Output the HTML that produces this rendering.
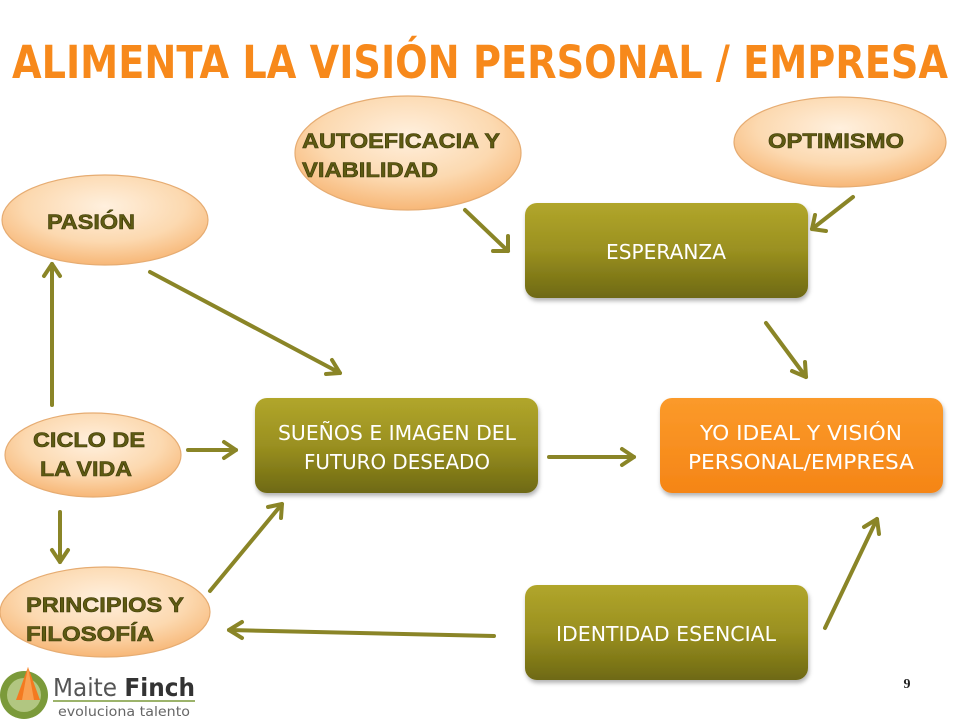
<!DOCTYPE html>
<html><head><meta charset="utf-8"><style>
html,body{margin:0;padding:0;background:#fff;}
svg{display:block;}
.el{font-family:"Liberation Sans",sans-serif;font-weight:bold;font-size:21px;fill:#5e5a12;stroke:#3c3a08;stroke-width:0.6;}
.bx{font-family:"DejaVu Sans","Liberation Sans",sans-serif;font-size:20px;fill:#fff;}
</style></head><body>
<svg width="960" height="720" viewBox="0 0 960 720" xmlns="http://www.w3.org/2000/svg">
<defs>
<radialGradient id="pe" cx="50%" cy="35%" r="65%">
<stop offset="0" stop-color="#fff0de"/><stop offset="0.6" stop-color="#fcd9b0"/><stop offset="1" stop-color="#f7b777"/>
</radialGradient>
<linearGradient id="ol" x1="0" y1="0" x2="0" y2="1">
<stop offset="0" stop-color="#b1a62b"/><stop offset="0.5" stop-color="#9a9020"/><stop offset="1" stop-color="#6e6912"/>
</linearGradient>
<linearGradient id="or" x1="0" y1="0" x2="0" y2="1">
<stop offset="0" stop-color="#fb9a2a"/><stop offset="1" stop-color="#f58516"/>
</linearGradient>
<filter id="sh" x="-10%" y="-10%" width="130%" height="140%"><feDropShadow dx="1" dy="3" stdDeviation="2" flood-color="#000" flood-opacity="0.3"/></filter>
</defs>

<text x="480" y="78" text-anchor="middle" textLength="936" lengthAdjust="spacingAndGlyphs" font-family="DejaVu Sans,Liberation Sans,sans-serif" font-weight="bold" font-size="45" fill="#f7891b">ALIMENTA LA VISIÓN PERSONAL / EMPRESA</text>

<g stroke="#e6ac72" stroke-width="1.2" fill="url(#pe)">
<ellipse cx="408" cy="153" rx="113" ry="57"/>
<ellipse cx="840" cy="142" rx="106" ry="45"/>
<ellipse cx="105" cy="220" rx="103" ry="45"/>
<ellipse cx="93" cy="455" rx="88" ry="42"/>
<ellipse cx="105" cy="612" rx="105" ry="45"/>
</g>
<text class="el" x="302" y="148" textLength="198" lengthAdjust="spacingAndGlyphs">AUTOEFICACIA Y</text>
<text class="el" x="302" y="177" textLength="136" lengthAdjust="spacingAndGlyphs">VIABILIDAD</text>
<text class="el" x="768" y="148" textLength="136" lengthAdjust="spacingAndGlyphs">OPTIMISMO</text>
<text class="el" x="47" y="229" textLength="88" lengthAdjust="spacingAndGlyphs">PASIÓN</text>
<text class="el" x="33" y="447" textLength="112" lengthAdjust="spacingAndGlyphs">CICLO DE</text>
<text class="el" x="40" y="476" textLength="92" lengthAdjust="spacingAndGlyphs">LA VIDA</text>
<text class="el" x="26" y="612" textLength="158" lengthAdjust="spacingAndGlyphs">PRINCIPIOS Y</text>
<text class="el" x="26" y="641" textLength="128" lengthAdjust="spacingAndGlyphs">FILOSOFÍA</text>

<g filter="url(#sh)">
<rect x="525" y="203" width="283" height="95" rx="12" fill="url(#ol)"/>
<rect x="255" y="398" width="283" height="95" rx="12" fill="url(#ol)"/>
<rect x="660" y="398" width="283" height="95" rx="12" fill="url(#or)"/>
<rect x="525" y="585" width="283" height="95" rx="12" fill="url(#ol)"/>
</g>
<text class="bx" x="666" y="259" text-anchor="middle" textLength="120" lengthAdjust="spacingAndGlyphs">ESPERANZA</text>
<text class="bx" x="397" y="440" text-anchor="middle" textLength="238" lengthAdjust="spacingAndGlyphs">SUEÑOS E IMAGEN DEL</text>
<text class="bx" x="397" y="469" text-anchor="middle" textLength="186" lengthAdjust="spacingAndGlyphs">FUTURO DESEADO</text>
<text class="bx" x="801" y="440" text-anchor="middle" textLength="202" lengthAdjust="spacingAndGlyphs">YO IDEAL Y VISIÓN</text>
<text class="bx" x="801" y="469" text-anchor="middle" textLength="226" lengthAdjust="spacingAndGlyphs">PERSONAL/EMPRESA</text>
<text class="bx" x="666" y="641" text-anchor="middle" textLength="220" lengthAdjust="spacingAndGlyphs">IDENTIDAD ESENCIAL</text>

<g stroke="#8a8527" stroke-width="4" fill="none" stroke-linecap="round" stroke-linejoin="round">
<line x1="465" y1="210" x2="508" y2="251"/><polyline points="493,251 508,251 508,236"/>
<line x1="853" y1="197" x2="812" y2="229"/><polyline points="815,215 812,229 826,231"/>
<line x1="766" y1="323" x2="806" y2="377"/><polyline points="805,362 806,377 792,371"/>
<line x1="150" y1="272" x2="340" y2="373"/><polyline points="326,374 340,373 332,360"/>
<line x1="52" y1="405" x2="52" y2="264"/><polyline points="44,276 52,264 60,276"/>
<line x1="188" y1="450" x2="236" y2="450"/><polyline points="224,442 236,450 224,458"/>
<line x1="549" y1="457" x2="634" y2="457"/><polyline points="622,449 634,457 622,465"/>
<line x1="60" y1="512" x2="60" y2="562"/><polyline points="52,550 60,562 68,550"/>
<line x1="210" y1="591" x2="282" y2="504"/><polyline points="268,507 282,504 281,518"/>
<line x1="494" y1="636" x2="229" y2="630"/><polyline points="242,622 229,630 242,638"/>
<line x1="825" y1="628" x2="877" y2="519"/><polyline points="864,527 877,519 879,534"/>
</g>

<text x="907" y="688" text-anchor="middle" font-family="Liberation Serif,serif" font-weight="bold" font-size="14" fill="#222">9</text>

<g>
<circle cx="24" cy="695" r="24" fill="#7b9a3a"/>
<circle cx="24" cy="695" r="17" fill="#c9d8a0" opacity="0.7"/>
<path d="M28,667 L40,700 L16,700 Z" fill="#f47a20"/>
<path d="M28,667 L34,700 L22,700 Z" fill="#f9a050"/>
</g>
<text x="53" y="696" textLength="142" lengthAdjust="spacingAndGlyphs" font-family="DejaVu Sans,Liberation Sans,sans-serif" font-size="25" fill="#555">Maite <tspan font-weight="bold" fill="#333">Finch</tspan></text>
<line x1="53" y1="701" x2="195" y2="701" stroke="#7b9a3a" stroke-width="1.5"/>
<text x="58" y="716" textLength="132" lengthAdjust="spacingAndGlyphs" font-family="DejaVu Sans,Liberation Sans,sans-serif" font-size="13" fill="#666">evoluciona talento</text>
</svg>
</body></html>
